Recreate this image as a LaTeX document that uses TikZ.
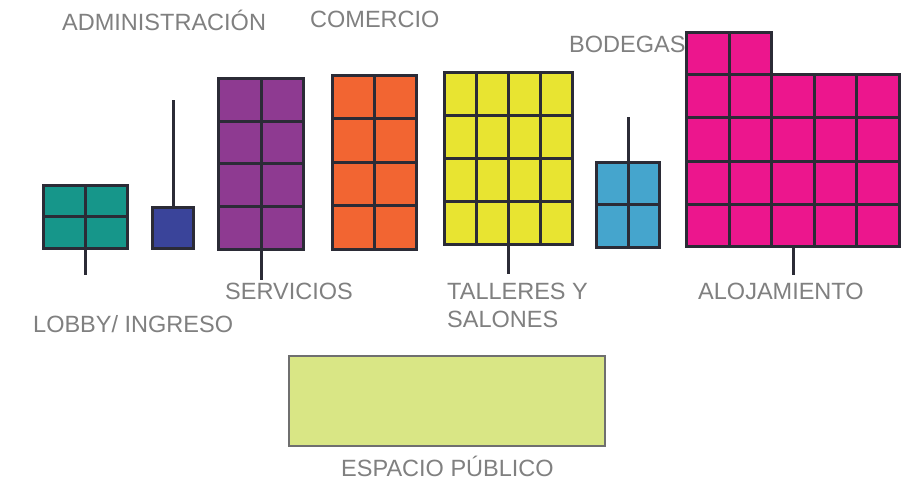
\documentclass[tikz,border=0pt]{standalone}
\usepackage{fontspec}
\setmainfont{Liberation Sans}
\definecolor{edge}{HTML}{2B2B36}
\definecolor{labelgray}{HTML}{808080}
\definecolor{cteal}{HTML}{16968A}
\definecolor{cnavy}{HTML}{3A449A}
\definecolor{cpurple}{HTML}{8E3A91}
\definecolor{corange}{HTML}{F26532}
\definecolor{cyellow}{HTML}{E8E431}
\definecolor{cblue}{HTML}{45A5CD}
\definecolor{cpink}{HTML}{EC168D}
\definecolor{clime}{HTML}{D9E685}
\definecolor{cborder}{HTML}{6F6F6F}
\begin{document}
\begin{tikzpicture}[x=1bp,y=-1bp,
  blk/.style={draw=edge,line width=3bp,rectangle,inner sep=0pt,outer sep=0pt},
  gridln/.style={draw=edge,line width=3bp},
  conn/.style={draw=edge,line width=3bp},
  lbl/.style={text=labelgray,font=\fontsize{23.6}{28}\selectfont,inner sep=0pt,anchor=base west}]
\useasboundingbox (0,0) rectangle (906,483);
\fill[white] (0,0) rectangle (906,483);

% LOBBY
\node[blk,fill=cteal,minimum width=84bp,minimum height=63bp] (lobby) at (85.5,217) {};
\draw[gridln] (85.5,185.5) -- (85.5,248.5);
\draw[gridln] (43.5,217) -- (127.5,217);
\coordinate (lobbyend) at (85.5,275);
\draw[conn] (lobby.south) -- (lobbyend);

% ADMIN
\node[blk,fill=cnavy,minimum width=41bp,minimum height=41bp] (admin) at (173,228) {};
\coordinate (adminend) at (173,100);
\draw[conn] (admin.north) -- (adminend);

% SERVICIOS
\node[blk,fill=cpurple,minimum width=85bp,minimum height=171bp] (serv) at (261,164) {};
\draw[gridln] (261,78.5) -- (261,249.5);
\foreach \yy in {121.25,164,206.75} \draw[gridln] (218.5,\yy) -- (303.5,\yy);
\coordinate (servend) at (261,280);
\draw[conn] (serv.south) -- (servend);

% COMERCIO
\node[blk,fill=corange,minimum width=84bp,minimum height=174bp] (com) at (374.5,162.5) {};
\draw[gridln] (374.5,75.5) -- (374.5,249.5);
\foreach \yy in {119,162.5,206} \draw[gridln] (332.5,\yy) -- (416.5,\yy);

% TALLERES
\node[blk,fill=cyellow,minimum width=128bp,minimum height=172bp] (tall) at (508.5,158.5) {};
\foreach \xx in {476.5,508.5,540.5} \draw[gridln] (\xx,72.5) -- (\xx,244.5);
\foreach \yy in {115.5,158.5,201.5} \draw[gridln] (444.5,\yy) -- (572.5,\yy);
\coordinate (tallend) at (508.5,274);
\draw[conn] (tall.south) -- (tallend);

% BODEGAS
\node[blk,fill=cblue,minimum width=63bp,minimum height=85bp] (bod) at (628,205) {};
\draw[gridln] (628,162.5) -- (628,247.5);
\draw[gridln] (596.5,205) -- (659.5,205);
\coordinate (bodend) at (628,117);
\draw[conn] (bod.north) -- (bodend);

% ALOJAMIENTO
\node[blk,fill=cpink,minimum width=213bp,minimum height=171.5bp] (aloj) at (793,160.75) {};
\node[blk,fill=cpink,minimum width=84.5bp,minimum height=42.5bp] (alojtop) at (728.75,53.75) {};
\draw[gridln] (729,32.5) -- (729,246.5);
\foreach \xx in {771.5,814,856.5} \draw[gridln] (\xx,75) -- (\xx,246.5);
\foreach \yy in {118,161.5,204.5} \draw[gridln] (686.5,\yy) -- (899.5,\yy);
\coordinate (alojend) at (793,275);
\draw[conn] (aloj.south) -- (alojend);

% ESPACIO PUBLICO
\node[draw=cborder,line width=2bp,fill=clime,rectangle,inner sep=0pt,minimum width=316bp,minimum height=90bp] (esp) at (447,401) {};

% LABELS
\node[lbl] (tadmin) at (62,31) {ADMINISTRACIÓN};
\node[lbl] (tcom) at (310,28) {COMERCIO};
\node[lbl] (tbod) at (569,53) {BODEGAS};
\node[lbl] (tserv) at (225,300) {SERVICIOS};
\node[lbl] (ttall) at (447,300) {TALLERES Y};
\node[lbl] (tsal) at (447,328) {SALONES};
\node[lbl] (taloj) at (698,300) {ALOJAMIENTO};
\node[lbl] (tlobby) at (33,333) {LOBBY/ INGRESO};
\node[lbl] (tesp) at (341,476) {ESPACIO PÚBLICO};
\end{tikzpicture}
\end{document}
